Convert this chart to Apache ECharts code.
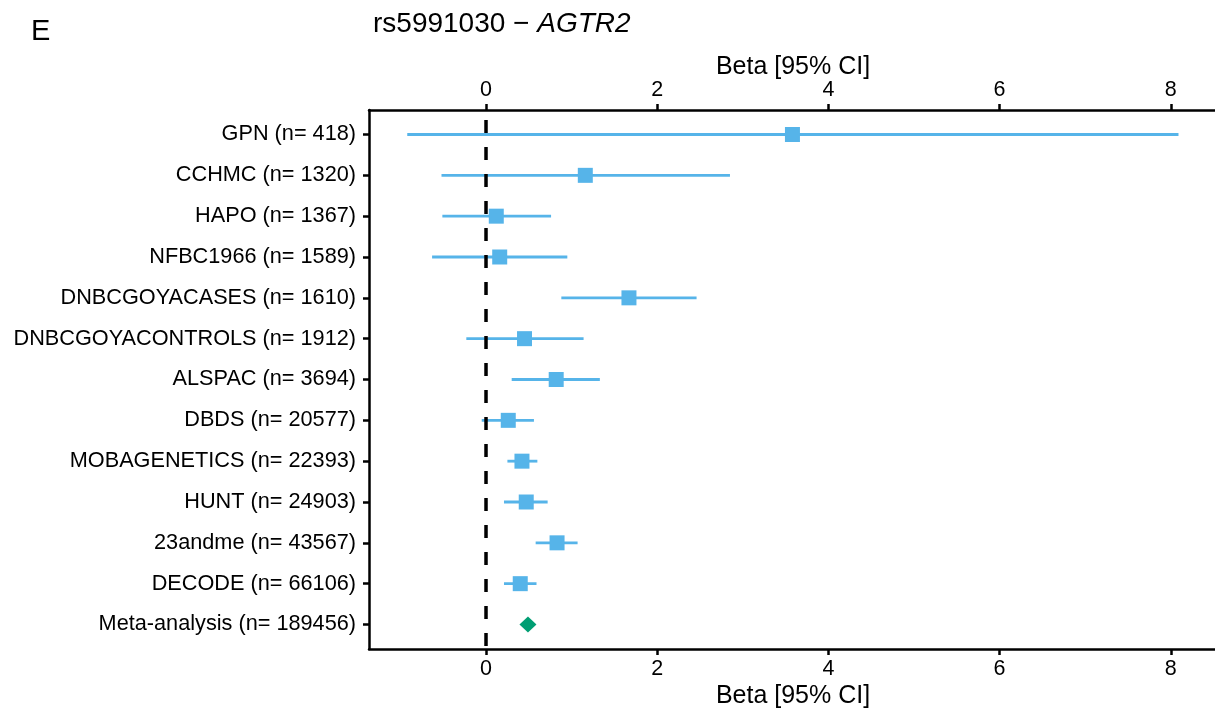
<!DOCTYPE html>
<html>
<head>
<meta charset="utf-8">
<script src="https://cdn.jsdelivr.net/npm/echarts@6/dist/echarts.min.js"></script>
<style>
html,body{margin:0;padding:0;background:#fff;}
#chart{width:1215px;height:714px;}
</style>
</head>
<body>
<div id="chart"></div>
<script>
// ---- data ----
const categories = [
  'GPN (n= 418)', 'CCHMC (n= 1320)', 'HAPO (n= 1367)', 'NFBC1966 (n= 1589)',
  'DNBCGOYACASES (n= 1610)', 'DNBCGOYACONTROLS (n= 1912)', 'ALSPAC (n= 3694)',
  'DBDS (n= 20577)', 'MOBAGENETICS (n= 22393)', 'HUNT (n= 24903)',
  '23andme (n= 43567)', 'DECODE (n= 66106)', 'Meta-analysis (n= 189456)'
];
const beta  = [3.58, 1.16, 0.12, 0.16, 1.67, 0.45, 0.82, 0.26, 0.42, 0.47, 0.83, 0.40, 0.49];
const lower = [-0.92, -0.52, -0.51, -0.63, 0.88, -0.23, 0.30, -0.05, 0.25, 0.21, 0.58, 0.21, null];
const upper = [8.09, 2.85, 0.76, 0.95, 2.46, 1.14, 1.33, 0.56, 0.60, 0.72, 1.07, 0.59, null];
const xTicks = [0, 2, 4, 6, 8];
const rowPositions = [1, 2, 3, 4, 5, 6, 7, 8, 9, 10, 11, 12, 13];
const metaIndex = 12;
const nullEffect = 0;

// ---- build ----
const FONT = 'Liberation Sans, Arial, sans-serif';
const X_MIN = -1.367, X_MAX = 8.54, Y_MIN = 0.4, Y_MAX = 13.6;
const studyPoints = [], metaPoints = [], ciData = [];
categories.forEach((c, i) => {
  if (i === metaIndex) metaPoints.push([beta[i], rowPositions[i]]);
  else studyPoints.push([beta[i], rowPositions[i]]);
  if (lower[i] !== null) ciData.push([lower[i], upper[i], rowPositions[i]]);
});

function xAxisCfg(pos, gap) {
  return {
    type: 'value', position: pos, min: X_MIN, max: X_MAX,
    name: 'Beta [95% CI]', nameLocation: 'middle', nameGap: gap, nameMoveOverlap: false,
    nameTextStyle: { fontFamily: FONT, fontSize: 25, color: '#000' },
    axisLine: { show: true, onZero: false, lineStyle: { color: '#000', width: 2.5 } },
    axisTick: { show: true, customValues: xTicks, length: 6, lineStyle: { color: '#000', width: 2.5 } },
    axisLabel: { customValues: xTicks, margin: 9, fontFamily: FONT, fontSize: 21.5, color: '#000' },
    splitLine: { show: false }
  };
}

const chart = echarts.init(document.getElementById('chart'), null, { renderer: 'canvas' });
chart.setOption({
  backgroundColor: '#fff',
  animation: false,
  title: [
    { text: 'E', left: 26, top: 12, textStyle: { fontFamily: FONT, fontSize: 29, fontWeight: 'normal', color: '#000' } },
    {
      text: '{a|rs5991030 − }{b|AGTR2}', left: 368, top: 5,
      textStyle: {
        fontWeight: 'normal',
        rich: {
          a: { fontFamily: FONT, fontSize: 28, fontWeight: 'normal', color: '#000' },
          b: { fontFamily: FONT, fontSize: 28, fontWeight: 'normal', fontStyle: 'italic', color: '#000' }
        }
      }
    }
  ],
  grid: { left: 369, right: -2, top: 110, bottom: 65, containLabel: false, outerBoundsMode: 'none' },
  xAxis: [xAxisCfg('bottom', 35), xAxisCfg('top', 30)],
  yAxis: {
    type: 'value', min: Y_MIN, max: Y_MAX, inverse: true,
    axisLine: { show: true, onZero: false, lineStyle: { color: '#000', width: 2.5 } },
    axisTick: { show: true, customValues: rowPositions, length: 6, lineStyle: { color: '#000', width: 2.5 } },
    axisLabel: {
      customValues: rowPositions, margin: 13, fontFamily: FONT, fontSize: 21.7, color: '#000',
      formatter: v => categories[Math.round(v) - 1]
    },
    splitLine: { show: false }
  },
  series: [
    {
      type: 'custom', xAxisIndex: 0, yAxisIndex: 0, z: 2,
      data: ciData,
      encode: { x: [0, 1], y: 2 },
      renderItem: function (params, api) {
        const p1 = api.coord([api.value(0), api.value(2)]);
        const p2 = api.coord([api.value(1), api.value(2)]);
        return { type: 'line', shape: { x1: p1[0], y1: p1[1], x2: p2[0], y2: p2[1] },
          style: { stroke: '#56B4E9', lineWidth: 2.8 } };
      }
    },
    {
      type: 'custom', xAxisIndex: 0, yAxisIndex: 0, z: 3, silent: true,
      data: [[nullEffect]],
      encode: { x: 0 },
      renderItem: function (params, api) {
        const p1 = api.coord([api.value(0), Y_MIN]);
        const p2 = api.coord([api.value(0), Y_MAX]);
        return { type: 'line', shape: { x1: p1[0], y1: p1[1], x2: p2[0], y2: p2[1] },
          style: { stroke: '#000', lineWidth: 3.5, lineDash: [13, 14], lineDashOffset: 17 } };
      }
    },
    {
      type: 'scatter', xAxisIndex: 0, yAxisIndex: 0, z: 4,
      data: studyPoints, symbol: 'rect', symbolSize: 15,
      itemStyle: { color: '#56B4E9', opacity: 1 }
    },
    {
      type: 'scatter', xAxisIndex: 0, yAxisIndex: 0, z: 4,
      data: metaPoints, symbol: 'diamond', symbolSize: [17, 16],
      itemStyle: { color: '#009E73', opacity: 1 }
    }
  ]
});
</script>
</body>
</html>
